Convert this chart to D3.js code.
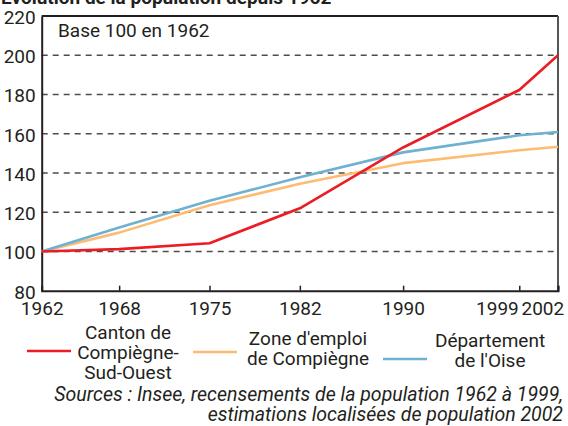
<!DOCTYPE html>
<html lang="fr">
<head>
  <meta charset="UTF-8">
  <script src="https://d3js.org/d3.v7.min.js"></script>
  <title>Evolution de la population</title>
  <style>
    body { margin: 0; background: #fff; }
    svg text { font-family: Roboto, "Liberation Sans", sans-serif; fill: #231f20; }
  </style>
</head>
<body>
  <div id="chart"></div>
  <script>
    // valeurs (base 100 en 1962)
    const years = [1962, 1968, 1975, 1982, 1990, 1999, 2002];
    const canton = [100, 101.2, 104.2, 122, 153, 182.3, 200];
    const zone = [100, 109.6, 123.6, 134.5, 145, 151.6, 153.4];
    const oise = [100, 112.2, 125.8, 137.8, 150.5, 159.2, 160.9];
    const yTicks = [80, 100, 120, 140, 160, 180, 200, 220];
    const gridValues = [100, 120, 140, 160, 180, 200];

    const series = [
      { name: ['Zone d\'emploi', 'de Compiègne'], values: zone, color: '#fdbb73' },
      { name: ['Département', 'de l\'Oise'], values: oise, color: '#6fb1d0' },
      { name: ['Canton de', 'Compiègne-', 'Sud-Ouest'], values: canton, color: '#ec1c24' }
    ];

    const width = 568, height = 426;
    const plotLeft = 41.7, plotRight = 558, plotTop = 16, plotBottom = 290.7;
    const fontSize = 19;

    const svg = d3.select('#chart').append('svg')
      .attr('width', width)
      .attr('height', height);

    const x = d3.scaleLinear().domain([1962, 2002]).range([plotLeft, plotRight]);
    const y = d3.scaleLinear().domain([80, 220]).range([plotBottom, plotTop]);

    // titre (coupé en haut dans l'original)
    svg.append('text')
      .attr('x', 1)
      .attr('y', 4)
      .attr('font-size', 19)
      .attr('font-weight', 'bold')
      .text('Évolution de la population depuis 1962');

    // grille en pointillés
    svg.selectAll('line.grid')
      .data(gridValues)
      .enter()
      .append('line')
      .attr('class', 'grid')
      .attr('x1', plotLeft)
      .attr('x2', plotRight)
      .attr('y1', d => y(d))
      .attr('y2', d => y(d))
      .attr('stroke', '#4d4d4d')
      .attr('stroke-width', 1.5)
      .attr('stroke-dasharray', '6,5');

    // cadre : haut et droite
    svg.append('line')
      .attr('x1', plotLeft).attr('x2', plotRight)
      .attr('y1', y(220)).attr('y2', y(220))
      .attr('stroke', '#231f20').attr('stroke-width', 2);
    svg.append('line')
      .attr('x1', plotRight).attr('x2', plotRight)
      .attr('y1', y(220)).attr('y2', y(80))
      .attr('stroke', '#555').attr('stroke-width', 2);

    // axe des x : petites graduations vers l'intérieur
    const xAxis = svg.append('g')
      .attr('transform', `translate(0,${plotBottom})`)
      .call(d3.axisBottom(x).tickValues(years).tickSize(-5).tickFormat(d3.format('d')));
    xAxis.select('.domain').attr('stroke', '#231f20').attr('stroke-width', 2);
    xAxis.selectAll('.tick line').attr('stroke', '#231f20').attr('stroke-width', 1.5);
    xAxis.selectAll('.tick text')
      .attr('y', 24)
      .attr('dy', 0)
      .attr('font-size', fontSize)
      .attr('fill', '#231f20')
      .attr('text-anchor', d => d === 1999 ? 'end' : (d === 2002 ? 'start' : 'middle'))
      .attr('dx', d => d === 1999 ? -1 : (d === 2002 ? -37 : 0));

    // axe des y
    const yAxis = svg.append('g')
      .attr('transform', `translate(${plotLeft},0)`)
      .call(d3.axisLeft(y).tickValues(yTicks).tickSize(0).tickPadding(6));
    yAxis.select('.domain').attr('stroke', '#231f20').attr('stroke-width', 2);
    yAxis.selectAll('.tick text')
      .attr('font-size', fontSize)
      .attr('dy', 7.5)
      .attr('fill', '#231f20');

    svg.append('text')
      .attr('x', 58)
      .attr('y', 37)
      .attr('font-size', fontSize)
      .text('Base 100 en 1962');

    // courbes
    const line = d3.line()
      .x((d, i) => x(years[i]))
      .y(d => y(d));

    svg.selectAll('path.serie')
      .data(series)
      .enter()
      .append('path')
      .attr('class', 'serie')
      .attr('d', d => line(d.values))
      .attr('fill', 'none')
      .attr('stroke', d => d.color)
      .attr('stroke-width', 2.6)
      .attr('stroke-linejoin', 'round');

    // légende
    const legendItems = [
      { serie: series[2], x0: 27, lineY: 351, textX: 128, baseline: 339 },
      { serie: series[0], x0: 193, lineY: 352, textX: 308, baseline: 345 },
      { serie: series[1], x0: 383, lineY: 359, textX: 490, baseline: 347 }
    ];

    const legend = svg.selectAll('g.legend')
      .data(legendItems)
      .enter()
      .append('g')
      .attr('class', 'legend');

    legend.append('line')
      .attr('x1', d => d.x0)
      .attr('x2', d => d.x0 + 44)
      .attr('y1', d => d.lineY)
      .attr('y2', d => d.lineY)
      .attr('stroke', d => d.serie.color)
      .attr('stroke-width', 2.6);

    legend.append('text')
      .attr('font-size', fontSize)
      .attr('text-anchor', 'middle')
      .selectAll('tspan')
      .data(d => d.serie.name.map((t, i) => ({ t, i, d })))
      .enter()
      .append('tspan')
      .attr('x', o => o.d.textX)
      .attr('y', o => o.d.baseline + o.i * 20)
      .text(o => o.t);

    // sources
    svg.append('text')
      .attr('text-anchor', 'end')
      .attr('font-size', 19.5)
      .attr('font-style', 'italic')
      .selectAll('tspan')
      .data(['Sources : Insee, recensements de la population 1962 à 1999,',
             'estimations localisées de population 2002'])
      .enter()
      .append('tspan')
      .attr('x', 563)
      .attr('y', (d, i) => 401 + i * 20)
      .text(d => d);
  </script>
</body>
</html>
